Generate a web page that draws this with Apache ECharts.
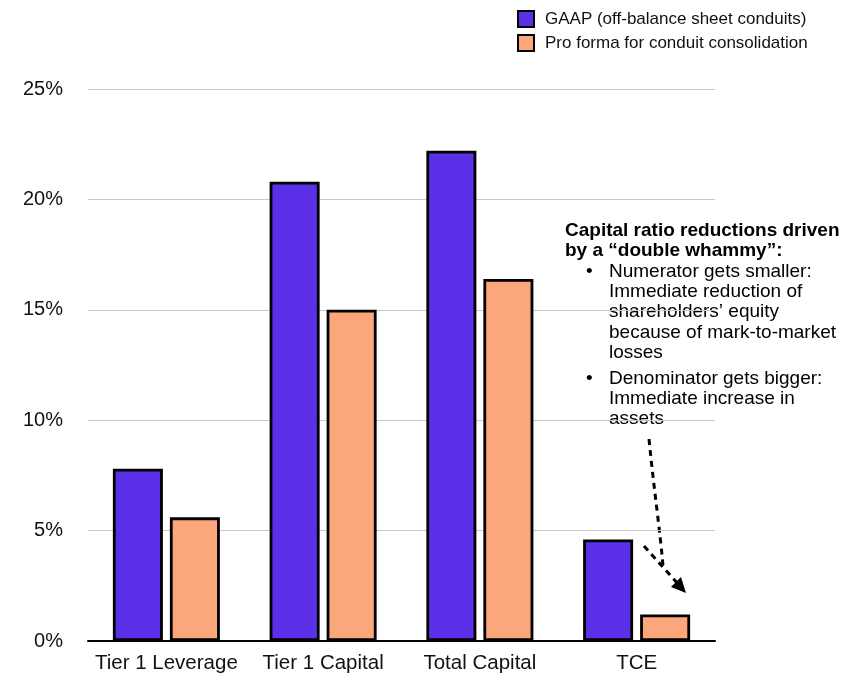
<!DOCTYPE html>
<html>
<head>
<meta charset="utf-8">
<style>
  html, body { margin: 0; padding: 0; background: #fff; }
  #chart { width: 846px; height: 675px; }
</style>
<script src="https://cdn.jsdelivr.net/npm/echarts@6/dist/echarts.min.js"></script>
</head>
<body>
<div id="chart"></div>
<script>
// chart data
const categories = ['Tier 1 Leverage', 'Tier 1 Capital', 'Total Capital', 'TCE'];
const gaap = [7.8, 20.8, 22.2, 4.6];
const proForma = [5.6, 15.0, 16.4, 1.2];
const seriesNames = ['GAAP (off-balance sheet conduits)', 'Pro forma for conduit consolidation'];
const yTicks = [0, 5, 10, 15, 20, 25];

const noteTitle = ['Capital ratio reductions driven', 'by a \u201cdouble whammy\u201d:'];
const noteBullets = [
  ['Numerator gets smaller:', 'Immediate reduction of', 'shareholders\u2019 equity', 'because of mark-to-market', 'losses'],
  ['Denominator gets bigger:', 'Immediate increase in', 'assets']
];

const font = '"Liberation Sans", Arial, Helvetica, sans-serif';
const purple = '#5c30e8';
const salmon = '#fca67c';

const chart = echarts.init(document.getElementById('chart'));

// annotation text block
const noteEls = [];
let y = 230.5;
noteTitle.forEach((t) => {
  noteEls.push({ type: 'text', x: 565, y: y, style: { text: t, font: 'bold 19px ' + font, fill: '#000', verticalAlign: 'middle' } });
  y += 20.4;
});
noteBullets.forEach((lines, bi) => {
  if (bi > 0) y += 5;
  noteEls.push({ type: 'text', x: 586, y: y, style: { text: '\u2022', font: '19px ' + font, fill: '#000', verticalAlign: 'middle' } });
  lines.forEach((t) => {
    noteEls.push({ type: 'text', x: 609, y: y, style: { text: t, font: '19px ' + font, fill: '#000', verticalAlign: 'middle' } });
    y += 20.4;
  });
});

const option = {
  animation: false,
  textStyle: { fontFamily: font },
  legend: {
    orient: 'vertical',
    left: 517,
    top: 10,
    padding: 0,
    itemWidth: 16,
    itemHeight: 16,
    itemGap: 6,
    icon: 'rect',
    textStyle: { fontSize: 17, color: '#111', fontFamily: font, padding: [0, 0, 0, 6] },
    data: seriesNames
  },
  grid: { left: 88, right: 131, top: 89, bottom: 34, containLabel: false },
  xAxis: {
    type: 'category',
    data: categories,
    axisTick: { show: false },
    axisLine: { lineStyle: { color: '#000', width: 2 } },
    axisLabel: { interval: 0, fontSize: 20.5, color: '#111', margin: 12, fontFamily: font }
  },
  yAxis: {
    type: 'value',
    min: yTicks[0],
    max: yTicks[yTicks.length - 1],
    interval: 5,
    axisLine: { show: false },
    axisTick: { show: false },
    axisLabel: { fontSize: 20, color: '#111', margin: 25, formatter: '{value}%', fontFamily: font },
    splitLine: { lineStyle: { color: '#c8c8c8', width: 1 } }
  },
  series: [
    {
      name: seriesNames[0],
      type: 'bar',
      data: gaap,
      barWidth: 50,
      barGap: '14%',
      itemStyle: { color: purple, borderColor: '#000', borderWidth: 2.8 }
    },
    {
      name: seriesNames[1],
      type: 'bar',
      data: proForma,
      barWidth: 50,
      barGap: '14%',
      itemStyle: { color: salmon, borderColor: '#000', borderWidth: 2.8 }
    }
  ],
  graphic: [
    { type: 'group', children: noteEls },
    // dashed arrows
    {
      type: 'bezierCurve',
      shape: { x1: 649, y1: 439, x2: 663, y2: 566, cpx1: 654, cpy1: 490, cpx2: 660, cpy2: 530 },
      style: { stroke: '#000', lineWidth: 3, lineDash: [6, 5], fill: null }
    },
    {
      type: 'line',
      shape: { x1: 644, y1: 546, x2: 679, y2: 585 },
      style: { stroke: '#000', lineWidth: 3, lineDash: [6, 5] }
    },
    {
      type: 'polygon',
      shape: { points: [[686, 593], [671, 587], [681, 577]] },
      style: { fill: '#000' }
    }
  ]
};

chart.setOption(option);
</script>
</body>
</html>
